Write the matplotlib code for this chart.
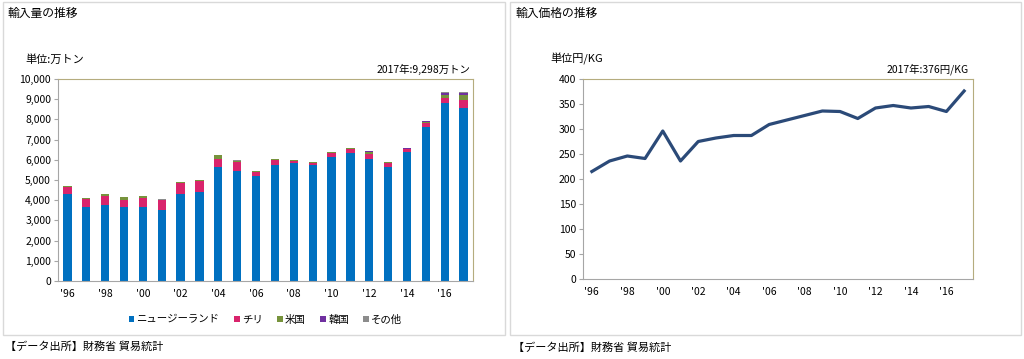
import numpy as np
import matplotlib
matplotlib.use("Agg")
import matplotlib.pyplot as plt
from matplotlib.patches import Rectangle
from matplotlib.ticker import FuncFormatter

plt.rcParams['font.family'] = ['Noto Sans CJK JP', 'DejaVu Sans']

# data
years = list(range(1996, 2018))
nz = [4300, 3670, 3750, 3670, 3670, 3500, 4330, 4430, 5620, 5440, 5220,
      5740, 5850, 5740, 6120, 6330, 6020, 5620, 6400, 7640, 8830, 8550]
chile = [360, 380, 480, 360, 460, 500, 500, 510, 400, 460, 180,
         250, 100, 110, 200, 210, 260, 200, 110, 200, 210, 410]
usa = [50, 50, 60, 130, 80, 30, 50, 60, 210, 60, 60,
       30, 30, 50, 50, 50, 120, 50, 40, 50, 170, 250]
korea = [0, 0, 0, 0, 0, 0, 30, 0, 0, 0, 0,
         0, 0, 0, 30, 0, 30, 0, 20, 30, 110, 110]
other = [10, 10, 10, 10, 10, 10, 10, 10, 10, 10, 10,
         10, 10, 10, 10, 10, 10, 10, 10, 10, 50, 50]
price = [215, 236, 246, 241, 296, 236, 275, 282, 287, 287, 309,
         318, 327, 336, 335, 321, 342, 347, 342, 345, 335, 376]

series_names = ['ニュージーランド', 'チリ', '米国', '韓国', 'その他']
series_vals = [nz, chile, usa, korea, other]
series_colors = ['#0070C0', '#D9246C', '#77933C', '#7030A0', '#8C8C8C']
tick_labels = ["'" + str(y)[2:] for y in years]

W, H = 1024, 359
fig = plt.figure(figsize=(W / 100, H / 100), dpi=100)


def px_axes(x0, y0, x1, y1):
    # pixel box (top-left origin) -> figure axes
    return fig.add_axes([x0 / W, 1 - y1 / H, (x1 - x0) / W, (y1 - y0) / H])


def px_text(x, y, s, **kw):
    fig.text(x / W, 1 - y / H, s, **kw)


# panel frames
for (x0, x1) in [(3, 505), (510, 1021)]:
    fig.add_artist(Rectangle((x0 / W, 1 - 335 / H), (x1 - x0) / W, 333 / H,
                             transform=fig.transFigure, fill=False,
                             edgecolor='#D9D9D9', linewidth=1))


def style_axes(ax):
    for side in ['left', 'bottom']:
        ax.spines[side].set_color('#A6A6A6')
    for side in ['top', 'right']:
        ax.spines[side].set_color('#B5AC7E')
    ax.tick_params(axis='y', length=3, color='#A6A6A6', labelsize=7.5, pad=2)
    ax.tick_params(axis='x', length=0, labelsize=7.5, pad=6)
    ax.set_xlim(-0.5, len(years) - 0.5)
    ax.set_xticks(np.arange(0, len(years), 2))
    ax.set_xticklabels(tick_labels[::2])


# left: import volume
ax1 = px_axes(58, 79, 473, 281)
x = np.arange(len(years))
bottom = np.zeros(len(years))
for name, vals, col in zip(series_names, series_vals, series_colors):
    ax1.bar(x, vals, 0.44, bottom=bottom, color=col, label=name)
    bottom += np.array(vals)
ax1.set_ylim(0, 10000)
ax1.set_yticks(np.arange(0, 10001, 1000))
ax1.yaxis.set_major_formatter(FuncFormatter(lambda v, p: f'{int(v):,}'))
style_axes(ax1)
ax1.legend(loc='upper center', bbox_to_anchor=(0.5, -0.12), ncol=5,
           frameon=False, fontsize=7.5, handlelength=0.55, handleheight=0.55,
           handletextpad=0.2, columnspacing=1.4)

# right: import price
ax2 = px_axes(583, 79, 973, 279)
ax2.plot(x, price, color='#2B4A78', linewidth=2.3)
ax2.set_ylim(0, 400)
ax2.set_yticks(np.arange(0, 401, 50))
style_axes(ax2)

# texts
px_text(8, 13, '輸入量の推移', fontsize=8.5, va='center')
px_text(515, 13, '輸入価格の推移', fontsize=8.5, va='center')
px_text(25, 60, '単位:万トン', fontsize=8, va='center')
px_text(550, 59, '単位円/KG', fontsize=8, va='center')
px_text(470, 69, '2017年:9,298万トン', fontsize=7.5, va='center', ha='right')
px_text(969, 69, '2017年:376円/KG', fontsize=7.5, va='center', ha='right')
px_text(5, 347, '【データ出所】財務省 貿易統計', fontsize=8, va='center')
px_text(513, 348, '【データ出所】財務省 貿易統計', fontsize=8, va='center')

fig.savefig('out.png', dpi=100, facecolor='white')
